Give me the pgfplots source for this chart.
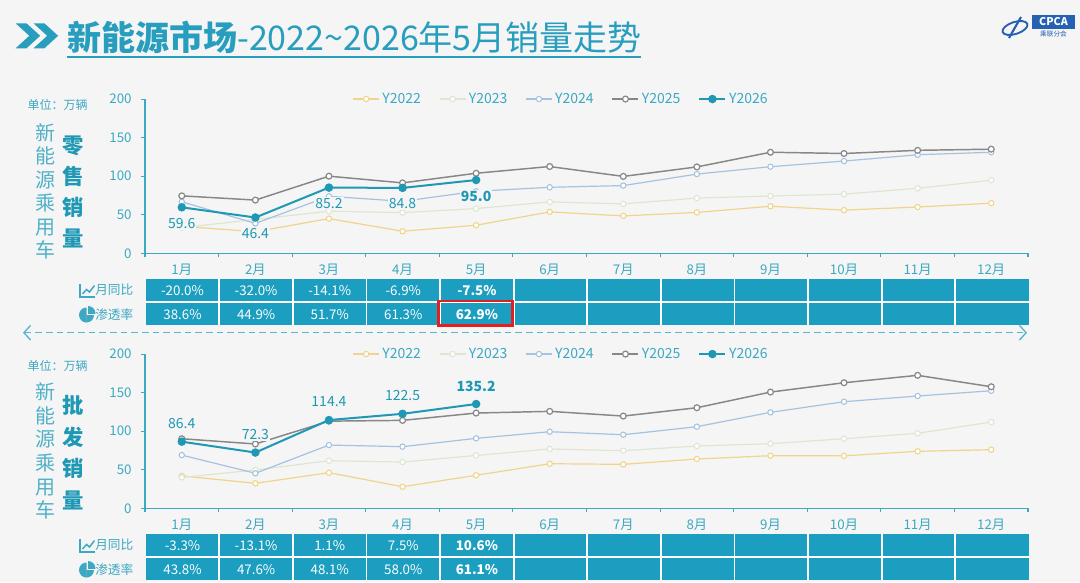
\documentclass[border=0pt]{standalone}
\usepackage{fontspec}
\setmainfont{Noto Sans CJK SC}
\usepackage{pgfplots}
\pgfplotsset{compat=1.18}
\usetikzlibrary{arrows.meta}
\definecolor{bg}{RGB}{245,245,245}
\definecolor{titlec}{RGB}{40,158,190}
\definecolor{axisc}{RGB}{60,168,194}
\definecolor{tabc}{RGB}{27,158,191}
\definecolor{c22}{RGB}{240,212,140}
\definecolor{c23}{RGB}{222,230,210}
\definecolor{c24}{RGB}{165,195,224}
\definecolor{c25}{RGB}{135,135,135}
\definecolor{c26}{RGB}{30,152,180}
\definecolor{redbox}{RGB}{226,32,32}
\definecolor{logob}{RGB}{38,96,178}

\pgfplotsset{
  npbase/.style={
    scale only axis, width=662.25pt, height=115.7pt,
    anchor=south west,
    xmin=0.5, xmax=12.5, ymin=0, ymax=200,
    axis lines*=left,
    axis line style={axisc, line width=1.1pt},
    ytick={0,50,100,150,200},
    xtick={1,...,12},
    xticklabels={1月,2月,3月,4月,5月,6月,7月,8月,9月,10月,11月,12月},
    minor xtick={0.5,1.5,...,12.5},
    tick align=outside,
    major tick length=3pt, minor tick length=3pt,
    major x tick style={draw=none},
    minor x tick style={axisc, line width=0.8pt},
    y tick style={axisc, line width=0.8pt},
    tick label style={font=\fontsize{10}{12}\selectfont, text=axisc},
    yticklabel style={xshift=-3.5pt},
    xticklabel style={yshift=-1.6pt},
    /pgf/number format/assume math mode=true,
    clip=false,
    legend columns=5,
    legend style={at={(0.4716,1)}, anchor=center, draw=none, fill=none,
      font=\fontsize{10.5}{12}\selectfont, text=axisc,
      /tikz/every even column/.append style={column sep=11.5pt}},
    legend cell align=left,
    legend image code/.code={\draw[mark repeat=2,mark phase=2,##1] plot coordinates {(0pt,0pt) (9.75pt,0pt) (19.5pt,0pt)};},
  },
  s22/.style={c22, line width=0.9pt, mark=*, mark size=2pt, mark options={fill=white, draw=c22, line width=0.8pt}},
  s23/.style={c23, line width=0.9pt, mark=*, mark size=2pt, mark options={fill=white, draw=c23, line width=0.8pt}},
  s24/.style={c24, line width=0.9pt, mark=*, mark size=2pt, mark options={fill=white, draw=c24, line width=0.8pt}},
  s25/.style={c25, line width=1.1pt, mark=*, mark size=2.2pt, mark options={fill=white, draw=c25, line width=0.9pt}},
  s26/.style={c26, line width=1.5pt, mark=*, mark size=2.4pt, mark options={fill=c26, draw=c26},
    nodes near coords, point meta=explicit symbolic},
}

\begin{document}
\begin{tikzpicture}
\begin{scope}[x=0.75pt,y=-0.75pt]
\fill[bg] (0,0) rectangle (1080,582);
% title
\fill[titlec] (15.6,23.3) -- (26.5,23.3) -- (40.2,35.8) -- (26.5,48.3) -- (15.6,48.3) -- (29.3,35.8) -- cycle;
\fill[titlec] (33.5,23.3) -- (44.4,23.3) -- (58.1,35.8) -- (44.4,48.3) -- (33.5,48.3) -- (47.2,35.8) -- cycle;
\node[anchor=west, inner sep=0pt, text=titlec, font=\fontsize{25.5}{30}\selectfont] at (67,37) {{\bfseries 新能源市场}-2022\textasciitilde 2026年5月销量走势};
\draw[titlec, line width=1.2pt] (67,57) -- (641,57);
% logo
\draw[logob, line width=1.4pt, rotate around={18:(1015,28)}] (1015,28) ellipse (13 and 6);
\draw[logob, line width=1.6pt] (1009,38) -- (1021,17);
\fill[logob] (1032,15) rectangle (1075,28.5);
\node[font=\fontsize{8}{8}\selectfont\bfseries, text=white] at (1053.5,21.8) {CPCA};
\node[font=\fontsize{5}{5}\selectfont, text=logob] at (1053.5,34) {乘联分会};
% left labels
\node[font=\fontsize{9}{10}\selectfont, text=axisc] at (57.5,105) {单位：万辆};
\node[font=\fontsize{9}{10}\selectfont, text=axisc] at (57.5,366) {单位：万辆};
\node[align=center, font=\fontsize{15}{17.6}\selectfont, text=axisc!90] at (45,191.5) {新\\能\\源\\乘\\用\\车};
\node[align=center, font=\fontsize{16}{23.4}\selectfont\bfseries, text=c26] at (73,192) {零\\售\\销\\量};
\node[align=center, font=\fontsize{15}{17.8}\selectfont, text=axisc!90] at (45,451) {新\\能\\源\\乘\\用\\车};
\node[align=center, font=\fontsize{16}{23.8}\selectfont\bfseries, text=c26] at (73,452.5) {批\\发\\销\\量};
% tables
\foreach \yo in {0,255}{
  \fill[tabc] (145.7,279.3+\yo) rectangle (1029,325+\yo);
  \draw[white, line width=1.6pt] (145.7,302.2+\yo) -- (1029,302.2+\yo);
  \foreach \k in {1,...,11}{\draw[white, line width=1.4pt] ({145.7+73.6*\k},279.3+\yo) -- ({145.7+73.6*\k},325+\yo);}
  % line-chart icon
  \draw[axisc, line width=1pt] (80,283.5+\yo) -- (80,297+\yo) -- (95,297+\yo);
  \draw[axisc, line width=1.1pt] (82.5,294+\yo) -- (86.5,289.5+\yo) -- (89.5,292+\yo) -- (94.5,285.5+\yo);
  % pie icon
  \begin{scope}
    \clip (75,306+\yo) rectangle (86.5,324+\yo);
    \fill[axisc] (86.5,315+\yo) circle[radius=7.5];
  \end{scope}
  \begin{scope}
    \clip (86.4,315+\yo) rectangle (96,324+\yo);
    \fill[axisc] (86.5,315+\yo) circle[radius=7.5];
  \end{scope}
  \begin{scope}
    \clip (88,313.5+\yo) rectangle (97,304+\yo);
    \fill[axisc] (88,313.5+\yo) circle[radius=7.5];
  \end{scope}
  \node[anchor=east, font=\fontsize{9.5}{11}\selectfont, text=axisc] at (138,290.2+\yo) {月同比};
  \node[anchor=east, font=\fontsize{9.5}{11}\selectfont, text=axisc] at (138,314.2+\yo) {渗透率};
}
\foreach \v [count=\i] in {-20.0\%,-32.0\%,-14.1\%,-6.9\%}
  \node[text=white, font=\fontsize{10}{12}\selectfont] at ({145.7+73.6*(\i-0.5)},290.2) {\v};
\foreach \v [count=\i] in {38.6\%,44.9\%,51.7\%,61.3\%}
  \node[text=white, font=\fontsize{10}{12}\selectfont] at ({145.7+73.6*(\i-0.5)},314.2) {\v};
\foreach \v [count=\i] in {-3.3\%,-13.1\%,1.1\%,7.5\%}
  \node[text=white, font=\fontsize{10}{12}\selectfont] at ({145.7+73.6*(\i-0.5)},545.2) {\v};
\foreach \v [count=\i] in {43.8\%,47.6\%,48.1\%,58.0\%}
  \node[text=white, font=\fontsize{10}{12}\selectfont] at ({145.7+73.6*(\i-0.5)},569.2) {\v};
\node[text=white, font=\fontsize{10}{12}\selectfont\bfseries] at (476.9,290.2) {-7.5\%};
\node[text=white, font=\fontsize{10}{12}\selectfont\bfseries] at (476.9,314.2) {62.9\%};
\node[text=white, font=\fontsize{10}{12}\selectfont\bfseries] at (476.9,545.2) {10.6\%};
\node[text=white, font=\fontsize{10}{12}\selectfont\bfseries] at (476.9,569.2) {61.1\%};
\draw[redbox, line width=1.9pt] (438.5,301) rectangle (512.5,325.5);
% dashed arrow
\draw[axisc!85, line width=1pt, dash pattern=on 5pt off 3pt, {Straight Barb[length=5pt,width=11pt]}-{Straight Barb[length=5pt,width=11pt]}] (23,332.7) -- (1027,332.7);
\end{scope}

% ---------- top chart: retail ----------
\begin{axis}[npbase, at={(108.75pt,-189.975pt)},
  every node near coord/.append style={anchor=center, yshift=-12pt, font=\fontsize{10.5}{12}\selectfont, text=c26, fill=bg, inner sep=0.8pt}]
\addplot[s22] coordinates {(1,35) (2,28) (3,45) (4,28.6) (5,36.4) (6,53.7) (7,48.5) (8,53) (9,61) (10,56) (11,60) (12,65)};
\addplot[s23] coordinates {(1,33.2) (2,43.9) (3,54.6) (4,52.7) (5,58.0) (6,66.6) (7,64.1) (8,71.6) (9,74.3) (10,76.7) (11,84.3) (12,94.7)};
\addplot[s24] coordinates {(1,66.8) (2,38.8) (3,73.9) (4,67.4) (5,80.4) (6,85.6) (7,87.8) (8,102.7) (9,112.3) (10,119.6) (11,127.8) (12,131)};
\addplot[s25] coordinates {(1,74.5) (2,69) (3,100) (4,91.3) (5,103.8) (6,112.5) (7,99.7) (8,112) (9,131) (10,129.4) (11,133.5) (12,135)};
\addplot[s26] coordinates {(1,59.6) [59.6] (2,46.4) [46.4] (3,85.2) [85.2] (4,84.8) [84.8] (5,95.0) [\textbf{95.0}]};
\legend{Y2022,Y2023,Y2024,Y2025,Y2026}
\end{axis}

% ---------- bottom chart: wholesale ----------
\begin{axis}[npbase, at={(108.75pt,-381.225pt)},
  every node near coord/.append style={anchor=center, yshift=13.5pt, font=\fontsize{10.5}{12}\selectfont, text=c26, fill=bg, inner sep=0.8pt}]
\addplot[s22] coordinates {(1,42) (2,32.4) (3,46.2) (4,28) (5,42.8) (6,57.8) (7,57) (8,63.9) (9,68.2) (10,68) (11,73.9) (12,76)};
\addplot[s23] coordinates {(1,40) (2,49.7) (3,61.7) (4,60) (5,68.5) (6,76.9) (7,74.7) (8,80.8) (9,83.8) (10,90.2) (11,97.2) (12,111.9)};
\addplot[s24] coordinates {(1,69) (2,45.4) (3,82) (4,79.9) (5,90.7) (6,99.3) (7,95.4) (8,105.8) (9,124.4) (10,138.2) (11,145.6) (12,152.4)};
\addplot[s25] coordinates {(1,90.2) (2,83.4) (3,113) (4,114) (5,123.5) (6,125.7) (7,119.6) (8,130.4) (9,150.7) (10,162.8) (11,172.4) (12,157.6)};
\addplot[s26] coordinates {(1,86.4) [86.4] (2,72.3) [72.3] (3,114.4) [114.4] (4,122.5) [122.5] (5,135.2) [\textbf{135.2}]};
\legend{Y2022,Y2023,Y2024,Y2025,Y2026}
\end{axis}

\pgfresetboundingbox
\path[use as bounding box] (0,0) rectangle (810pt,-436.5pt);
\end{tikzpicture}
\end{document}
